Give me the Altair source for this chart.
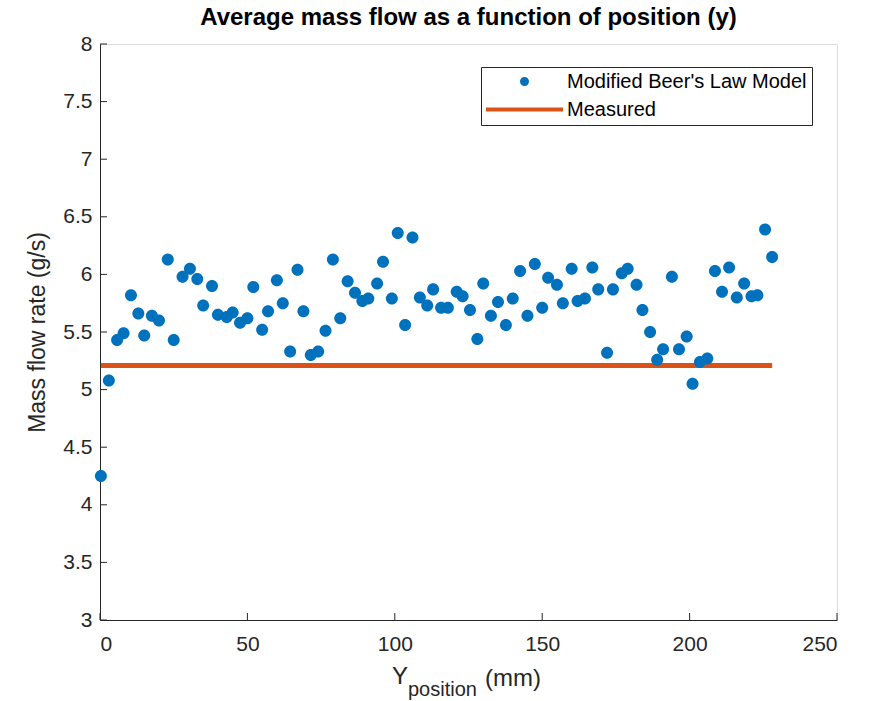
import altair as alt
import pandas as pd

# ---- data ----
x_model = [0.3, 3, 5.8, 8, 10.5, 13, 15, 17.6, 20, 23,
           25, 28, 30.5, 33, 35, 38, 40, 43, 45, 47.5,
           50, 52, 55, 57, 60, 62, 64.5, 67, 69, 71.5,
           74, 76.5, 79, 81.5, 84, 86.5, 89, 91, 94, 96,
           99, 101, 103.5, 106, 108.5, 111, 113, 115.7, 118, 121,
           123, 125.5, 128, 130, 132.6, 135, 137.7, 140, 142.5, 145,
           147.5, 150, 152, 155, 157, 160, 162, 164.5, 167, 169,
           172, 174, 177, 179, 182, 184, 186.6, 189, 191, 194,
           196.4, 199, 201, 203.5, 206, 208.6, 211, 213.4, 216, 218.5,
           221, 223, 225.6, 228]
y_model = [4.25, 5.08, 5.43, 5.49, 5.82, 5.66, 5.47, 5.64, 5.60, 6.13,
           5.43, 5.98, 6.05, 5.96, 5.73, 5.90, 5.65, 5.63, 5.67, 5.58,
           5.62, 5.89, 5.52, 5.68, 5.95, 5.75, 5.33, 6.04, 5.68, 5.30,
           5.33, 5.51, 6.13, 5.62, 5.94, 5.84, 5.77, 5.79, 5.92, 6.11,
           5.79, 6.36, 5.56, 6.32, 5.80, 5.73, 5.87, 5.71, 5.71, 5.85,
           5.81, 5.69, 5.44, 5.92, 5.64, 5.76, 5.56, 5.79, 6.03, 5.64,
           6.09, 5.71, 5.97, 5.91, 5.75, 6.05, 5.77, 5.79, 6.06, 5.87,
           5.32, 5.87, 6.01, 6.05, 5.91, 5.69, 5.50, 5.26, 5.35, 5.98,
           5.35, 5.46, 5.05, 5.24, 5.27, 6.03, 5.85, 6.06, 5.80, 5.92,
           5.81, 5.82, 6.39, 6.15]
x_measured = [0.3, 228]
y_measured = [5.21, 5.21]

series_names = ["Modified Beer's Law Model", "Measured"]
series_colors = ["#0072BD", "#D95319"]
x_ticks = [0, 50, 100, 150, 200, 250]
y_ticks = [3, 3.5, 4, 4.5, 5, 5.5, 6, 6.5, 7, 7.5, 8]

title_text = "Average mass flow as a function of position (y)"
y_title = "Mass flow rate (g/s)"
x_title_main = "Y"
x_title_sub = "position"
x_title_unit = "(mm)"

W, H = 737, 576
FONT = "Liberation Sans"
INK = "#262626"

model_df = pd.DataFrame({"x": x_model, "y": y_model, "series": series_names[0]})
meas_df = pd.DataFrame({"x": x_measured, "y": y_measured})

xscale = alt.Scale(domain=[0, 250], nice=False, zero=False)
yscale = alt.Scale(domain=[3, 8], nice=False, zero=False)

# custom legend/marker shapes (unit square -1..1)
circle_path = "M-0.117,0A0.117,0.117 0 1,0 0.117,0A0.117,0.117 0 1,0 -0.117,0Z"
bar_path = "M-1,-0.052L1,-0.052L1,0.052L-1,0.052Z"

xaxis = alt.Axis(values=x_ticks, ticks=False, grid=False, title=None,
                 labelFontSize=21, labelPadding=13, labelColor=INK, labelFont=FONT,
                 domainColor=INK, format="d")
yaxis = alt.Axis(values=y_ticks, ticks=False, grid=False, title=y_title,
                 labelFontSize=21, labelPadding=8, labelColor=INK, labelFont=FONT,
                 titleFontSize=23, titleFontWeight="normal", titleColor=INK, titleFont=FONT,
                 titlePadding=13, domainColor=INK, format="~g")

measured = alt.Chart(meas_df).mark_line(strokeWidth=5, color=series_colors[1]).encode(
    x=alt.X("x:Q", scale=xscale, axis=xaxis),
    y=alt.Y("y:Q", scale=yscale, axis=yaxis),
)

points = alt.Chart(model_df).mark_point(filled=True, opacity=1, size=10526).encode(
    x=alt.X("x:Q", scale=xscale),
    y=alt.Y("y:Q", scale=yscale),
    color=alt.Color("series:N",
                    scale=alt.Scale(domain=series_names, range=series_colors),
                    legend=alt.Legend(title=None, orient="none", legendX=381, legendY=23,
                                      symbolSize=5929, clipHeight=19, rowPadding=7,
                                      symbolStrokeWidth=0, labelFontSize=20, labelFont=FONT,
                                      labelColor="#000000", labelOffset=4, padding=5,
                                      labelLimit=400,
                                      strokeColor=INK, fillColor="white",
                                      symbolOpacity=1)),
    shape=alt.Shape("series:N",
                    scale=alt.Scale(domain=series_names, range=[circle_path, bar_path])),
)

xt_df = pd.DataFrame({"v": x_ticks})
yt_df = pd.DataFrame({"v": y_ticks})
xticks = alt.Chart(xt_df).mark_rule(color=INK, strokeWidth=1).encode(
    x=alt.X("v:Q", scale=xscale), y=alt.value(H), y2=alt.value(H - 7))
yticks = alt.Chart(yt_df).mark_rule(color=INK, strokeWidth=1).encode(
    y=alt.Y("v:Q", scale=yscale), x=alt.value(0), x2=alt.value(7))

t1 = alt.Chart(pd.DataFrame({"t": [x_title_main]})).mark_text(
    font=FONT, fontSize=24, color=INK, align="center", baseline="alphabetic").encode(
    text="t:N", x=alt.value(300), y=alt.value(640))
t2 = alt.Chart(pd.DataFrame({"t": [x_title_sub]})).mark_text(
    font=FONT, fontSize=20, color=INK, align="left", baseline="alphabetic").encode(
    text="t:N", x=alt.value(308), y=alt.value(652))
t3 = alt.Chart(pd.DataFrame({"t": [x_title_unit]})).mark_text(
    font=FONT, fontSize=24, color=INK, align="left", baseline="alphabetic").encode(
    text="t:N", x=alt.value(385), y=alt.value(642))

chart = alt.layer(measured, points, xticks, yticks, t1, t2, t3).properties(
    width=W, height=H,
    title=alt.TitleParams(title_text, font=FONT, fontSize=24, fontWeight="bold",
                          color="#000000", anchor="middle", offset=3),
    autosize=alt.AutoSizeParams(type="none"),
    padding={"left": 100, "top": 44, "right": 42, "bottom": 81},
).configure_view(stroke=None).configure(background="white")

chart.save("out.html", embed_options={"renderer": "svg", "actions": False})
